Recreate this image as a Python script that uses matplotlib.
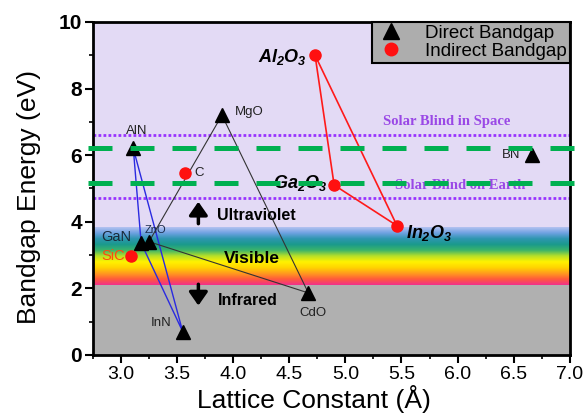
import numpy as np
import matplotlib
matplotlib.use("Agg")
import matplotlib.pyplot as plt
from matplotlib.colors import LinearSegmentedColormap
from matplotlib.lines import Line2D

plt.rcParams['font.family'] = ['Liberation Sans', 'DejaVu Sans']
plt.rcParams['mathtext.fontset'] = 'custom'
plt.rcParams['mathtext.it'] = 'Liberation Sans:italic:bold'
plt.rcParams['mathtext.rm'] = 'Liberation Sans:italic:bold'

# direct bandgap materials (black triangles)
direct_names = ['AlN', 'MgO', 'BN', 'GaN', 'ZnO', 'InN', 'CdO']
direct_a = [3.11, 3.90, 6.66, 3.18, 3.25, 3.55, 4.67]
direct_eg = [6.2, 7.2, 6.0, 3.36, 3.4, 0.7, 1.86]

# indirect bandgap materials (red circles)
indirect_names = ['Al2O3', 'Ga2O3', 'In2O3', 'C', 'SiC']
indirect_a = [4.73, 4.90, 5.46, 3.57, 3.09]
indirect_eg = [9.0, 5.1, 3.88, 5.47, 2.97]

# alloy triangles
blue_tri = ['AlN', 'GaN', 'InN']
black_tri = ['ZnO', 'MgO', 'CdO']
red_tri = ['Al2O3', 'Ga2O3', 'In2O3']

# reference levels
solar_space = 6.6
solar_earth = 4.7
green_levels = [6.2, 5.15]
ir_top = 2.1
vis_top = 3.84

pts = {}
for n, a, e in zip(direct_names, direct_a, direct_eg):
    pts[n] = (a, e)
for n, a, e in zip(indirect_names, indirect_a, indirect_eg):
    pts[n] = (a, e)

fig = plt.figure(figsize=(5.88, 4.15), dpi=100)
ax = fig.add_axes([0.158, 0.145, 0.811, 0.802])
ax.set_xlim(2.75, 7.0)
ax.set_ylim(0, 10)

# background bands
ax.axhspan(vis_top, 10, color='#E3DAF5', zorder=0)
ax.axhspan(0, ir_top, color='#B0B0B0', zorder=0)
rainbow = LinearSegmentedColormap.from_list('vis', [
    '#F0308C', '#FF5A3C', '#FF9A1E', '#FFD400', '#FFF200', '#B8E028',
    '#3CB46A', '#1A9A8C', '#2E96B0', '#6FA2E2', '#B4C2F0'])
grad = np.linspace(0, 1, 256).reshape(-1, 1)
ax.imshow(grad, cmap=rainbow, origin='lower', aspect='auto',
          extent=[2.75, 7.0, ir_top, vis_top], zorder=0)

# solar blind lines
ax.axhline(solar_space, color='#9933FF', lw=2, ls=(0, (1, 0.8)), zorder=1)
ax.axhline(solar_earth, color='#9933FF', lw=2, ls=(0, (1, 0.8)), zorder=1)
ax.text(5.9, 7.0, 'Solar Blind in Space', color='#9A48E6', fontsize=10.5,
        fontweight='bold', family='Liberation Serif', ha='center', va='center')
ax.text(6.02, 5.08, 'Solar Blind on Earth', color='#9A48E6', fontsize=10.5,
        fontweight='bold', family='Liberation Serif', ha='center', va='center')

# triangles connecting materials
def tri(names, color, lw):
    xs = [pts[n][0] for n in names] + [pts[names[0]][0]]
    ys = [pts[n][1] for n in names] + [pts[names[0]][1]]
    ax.plot(xs, ys, color=color, lw=lw, zorder=2)

tri(blue_tri, '#2A2AE0', 1.0)
tri(black_tri, '#333333', 0.8)
tri(red_tri, '#FF1A1A', 1.2)

ax.plot(direct_a, direct_eg, ls='none', marker='^', ms=10, color='black', zorder=3)
ax.plot(indirect_a, indirect_eg, ls='none', marker='o', ms=8, color='#FF1010', zorder=3)

# labels
ax.text(3.14, 6.73, 'AlN', fontsize=9.5, ha='center', va='center', color='#222222')
ax.text(4.14, 7.3, 'MgO', fontsize=9.5, ha='center', va='center', color='#222222')
ax.text(6.48, 6.0, 'BN', fontsize=9.5, ha='center', va='center', color='#222222')
ax.text(2.96, 3.55, 'GaN', fontsize=10.5, ha='center', va='center', color='#1A2A3A')
ax.text(3.31, 3.75, 'ZnO', fontsize=8, ha='center', va='center', color='#1A2A4A')
ax.text(2.93, 2.97, 'SiC', fontsize=10.5, ha='center', va='center', color='#FF4A10')
ax.text(3.36, 0.97, 'InN', fontsize=9.5, ha='center', va='center', color='#222222')
ax.text(4.71, 1.26, 'CdO', fontsize=9.5, ha='center', va='center', color='#222222')
ax.text(3.70, 5.47, 'C', fontsize=9.5, ha='center', va='center', color='#222222')
ax.text(4.44, 8.95, r'$Al_2O_3$', fontsize=13, ha='center', va='center')
ax.text(4.60, 5.17, r'$Ga_2O_3$', fontsize=13, ha='center', va='center')
ax.text(5.75, 3.66, r'$In_2O_3$', fontsize=13, ha='center', va='center')

# region labels
ax.text(4.21, 4.2, 'Ultraviolet', fontsize=11.5, fontweight='bold', ha='center', va='center')
ax.text(4.17, 2.9, 'Visible', fontsize=12.5, fontweight='bold', ha='center', va='center')
ax.text(4.13, 1.63, 'Infrared', fontsize=11.5, fontweight='bold', ha='center', va='center')
arrow = dict(arrowstyle='-|>,head_width=0.35,head_length=0.5', lw=2.5, color='black',
             mutation_scale=16, shrinkA=0, shrinkB=0)
ax.annotate('', xy=(3.69, 4.6), xytext=(3.69, 3.94), arrowprops=arrow)
ax.annotate('', xy=(3.69, 1.48), xytext=(3.69, 2.12), arrowprops=arrow)

# green dashed lines, drawn past the frame
for g in green_levels:
    ax.plot([2.71, 7.2], [g, g], color='#00B050', lw=3.6, dashes=(4.8, 3.6),
            clip_on=False, zorder=5)

# legend
handles = [Line2D([], [], ls='none', marker='^', ms=11, color='black'),
           Line2D([], [], ls='none', marker='o', ms=9, color='#FF1010')]
leg = ax.legend(handles, ['Direct Bandgap', 'Indirect Bandgap'], loc='upper right',
                borderaxespad=0, fontsize=13.5, fancybox=False, framealpha=1,
                facecolor='#ADADAD', edgecolor='black', handletextpad=0.9,
                borderpad=0.15, labelspacing=0.05, handlelength=1.8)
leg.get_frame().set_linewidth(1.5)
leg.set_zorder(6)

ax.set_xticks(np.arange(3.0, 7.01, 0.5))
ax.set_xticks(np.arange(2.75, 7.01, 0.25), minor=True)
ax.set_yticks(np.arange(0, 10.1, 2))
ax.set_yticks(np.arange(1, 10, 2), minor=True)
ax.set_xticklabels(['%.1f' % v for v in np.arange(3.0, 7.01, 0.5)], fontsize=14)
ax.set_yticklabels(['%d' % v for v in np.arange(0, 10.1, 2)], fontsize=15, fontweight='bold')
ax.tick_params(which='major', length=6, width=1.5, direction='out', pad=2)
ax.tick_params(which='minor', length=3, width=1.2, direction='out')
for s in ax.spines.values():
    s.set_linewidth(2)

ax.set_xlabel('Lattice Constant (Å)', fontsize=19)
ax.set_ylabel('Bandgap Energy (eV)', fontsize=19)
ax.xaxis.set_label_coords(0.463, -0.09)
ax.yaxis.set_label_coords(-0.108, 0.475)

fig.savefig('out.png', dpi=100)
